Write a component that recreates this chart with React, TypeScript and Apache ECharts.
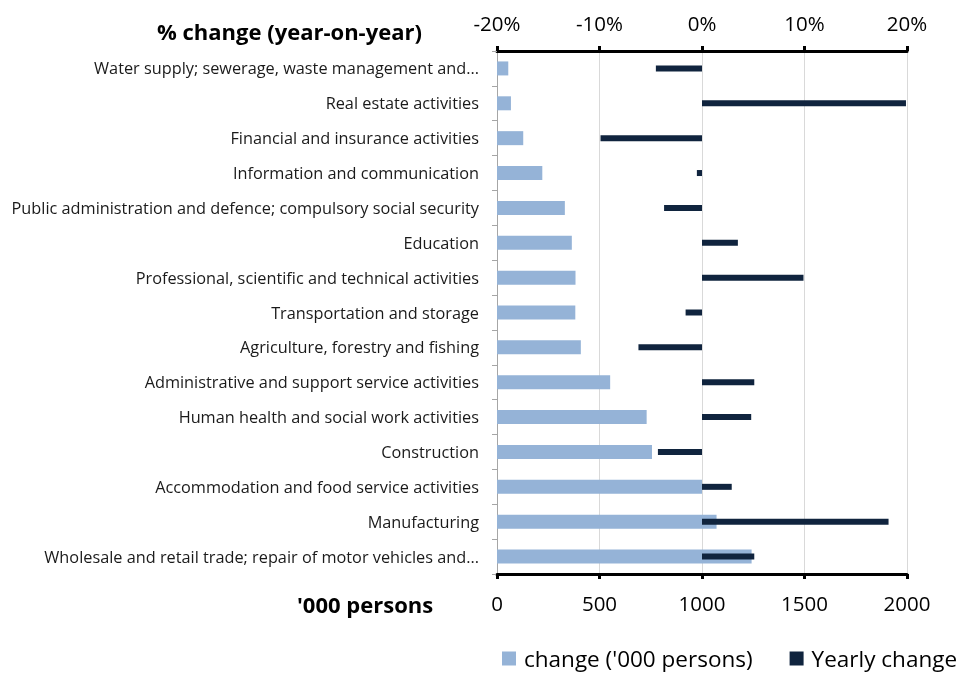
import React, { useEffect, useRef } from "react";
import * as echarts from "echarts";

const categories = [
  "Water supply; sewerage, waste management and...",
  "Real estate activities",
  "Financial and insurance activities",
  "Information and communication",
  "Public administration and defence; compulsory social security",
  "Education",
  "Professional, scientific and technical activities",
  "Transportation and storage",
  "Agriculture, forestry and fishing",
  "Administrative and support service activities",
  "Human health and social work activities",
  "Construction",
  "Accommodation and food service activities",
  "Manufacturing",
  "Wholesale and retail trade; repair of motor vehicles and...",
];

const changePersons = [55, 68, 128, 221, 331, 365, 383, 382, 409, 552, 730, 756, 1000, 1071, 1242];
const yearlyChangePct = [-4.5, 19.9, -9.9, -0.5, -3.7, 3.5, 9.9, -1.6, -6.2, 5.1, 4.8, -4.3, 2.9, 18.2, 5.1];

const personTicks = { min: 0, max: 2000, interval: 500 };
const pctTicks = { min: -20, max: 20, interval: 10 };

const FONT = "Open Sans";

export default function App() {
  const ref = useRef<HTMLDivElement>(null);
  useEffect(() => {
    if (!ref.current) return;
    const chart = echarts.init(ref.current, null, { renderer: "svg" });
    chart.setOption({
      animation: false,
      textStyle: { fontFamily: FONT },
      grid: { left: 497, right: 56, top: 51, bottom: 99, containLabel: false },
      xAxis: [
        {
          type: "value",
          position: "bottom",
          min: personTicks.min,
          max: personTicks.max,
          interval: personTicks.interval,
          axisLine: { show: true, lineStyle: { color: "#000", width: 3 } },
          axisTick: { show: true, length: 5, lineStyle: { color: "#000", width: 3 } },
          axisLabel: {
            color: "#000",
            fontSize: 20.5,
            fontFamily: FONT,
            margin: 18,
            formatter: (v: number) => String(v),
          },
          splitLine: { show: true, lineStyle: { color: "#d9d9d9", width: 1 } },
        },
        {
          type: "value",
          position: "top",
          min: pctTicks.min,
          max: pctTicks.max,
          interval: pctTicks.interval,
          axisLine: { show: true, lineStyle: { color: "#000", width: 3 } },
          axisTick: { show: true, length: 5, lineStyle: { color: "#000", width: 3 } },
          axisLabel: {
            color: "#000",
            fontSize: 20.5,
            fontFamily: FONT,
            margin: 18,
            formatter: (v: number) => `${v}%`,
          },
          splitLine: { show: false },
        },
      ],
      yAxis: [
        {
          type: "category",
          data: categories,
          inverse: true,
          axisLine: { show: true, lineStyle: { color: "#a6a6a6", width: 1 } },
          axisTick: { show: true, length: 5, lineStyle: { color: "#a6a6a6" } },
          axisLabel: { color: "#1a1a1a", fontSize: 16.3, fontFamily: FONT, margin: 18 },
        },
        {
          type: "category",
          data: categories,
          inverse: true,
          show: false,
        },
      ],
      legend: {
        left: 502,
        top: 647,
        padding: 0,
        itemWidth: 14,
        itemHeight: 14,
        itemGap: 37,
        icon: "rect",
        textStyle: { fontSize: 22.5, fontFamily: FONT, color: "#000", padding: [0, 0, 0, 3] },
        data: ["change ('000 persons)", "Yearly change"],
      },
      graphic: [
        {
          type: "text",
          x: 157,
          y: 31,
          style: {
            text: "% change (year-on-year)",
            font: `bold 22px "${FONT}"`,
            fill: "#000",
            verticalAlign: "middle",
          },
        },
        {
          type: "text",
          x: 297,
          y: 604,
          style: {
            text: "'000 persons",
            font: `bold 22px "${FONT}"`,
            fill: "#000",
            verticalAlign: "middle",
          },
        },
      ],
      series: [
        {
          name: "change ('000 persons)",
          type: "bar",
          xAxisIndex: 0,
          yAxisIndex: 0,
          barWidth: 14,
          itemStyle: { color: "#95b3d7" },
          data: changePersons,
        },
        {
          name: "Yearly change",
          type: "bar",
          xAxisIndex: 1,
          yAxisIndex: 1,
          barWidth: 6,
          itemStyle: { color: "#10243e" },
          data: yearlyChangePct,
        },
      ],
    });
    return () => chart.dispose();
  }, []);
  return (
    <div
      ref={ref}
      style={{ position: "fixed", left: 0, top: 0, width: 963, height: 673 }}
    />
  );
}
